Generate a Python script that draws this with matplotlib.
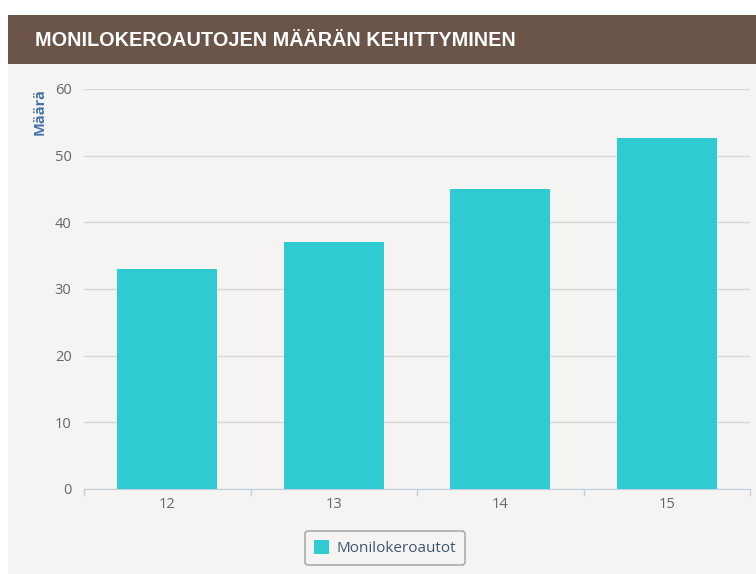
import matplotlib.pyplot as plt
from matplotlib.patches import Rectangle

years = ["12", "13", "14", "15"]
counts = [33, 37, 45, 52.6]
y_ticks = [0, 10, 20, 30, 40, 50, 60]

title = "MONILOKEROAUTOJEN MÄÄRÄN KEHITTYMINEN"
y_label = "Määrä"
series_name = "Monilokeroautot"

W, H = 756, 574
bg = "#f5f4f2"
bar_color = "#2ecbd3"

fig = plt.figure(figsize=(W / 100, H / 100), dpi=100)
fig.patch.set_facecolor("white")

# chart background and title bar
fig.patches.append(Rectangle((8 / W, 0), 1, 1 - 64 / H, transform=fig.transFigure,
                             facecolor=bg, edgecolor="none", zorder=-2))
fig.patches.append(Rectangle((8 / W, 1 - 64 / H), 1, 49 / H, transform=fig.transFigure,
                             facecolor="#6b5549", edgecolor="none", zorder=-1))
fig.text(35 / W, 1 - 40 / H, title, color="white", fontsize=14.3, fontweight="bold",
         family=["Liberation Sans", "DejaVu Sans"], va="center", ha="left")

ax = fig.add_axes([84 / W, 1 - 489 / H, 666 / W, 400 / H])
ax.set_facecolor(bg)
x = range(len(years))
bars = ax.bar(x, counts, width=0.6, color=bar_color, zorder=3, label=series_name)

ax.set_xlim(-0.5, len(years) - 0.5)
ax.set_ylim(0, 60)
ax.set_yticks(y_ticks)
ax.yaxis.grid(True, color="#d8d8d8", linewidth=1)
ax.set_axisbelow(True)
for s in ["top", "right", "left"]:
    ax.spines[s].set_visible(False)
ax.spines["bottom"].set_color("#c0d0e0")
ax.spines["bottom"].set_zorder(4)

ax.set_xticks(list(x))
ax.set_xticklabels(years)
ax.set_xticks([i - 0.5 for i in range(len(years) + 1)], minor=True)
ax.tick_params(axis="x", which="major", length=0, pad=6, labelsize=10.5, labelcolor="#666666")
ax.tick_params(axis="x", which="minor", length=5, color="#c0d0e0", width=1)
ax.tick_params(axis="y", length=0, pad=9, labelsize=10.5, labelcolor="#666666")
for lbl in ax.get_xticklabels() + ax.get_yticklabels():
    lbl.set_family(["Open Sans", "DejaVu Sans"])

fig.text(40 / W, 1 - 112 / H, y_label, rotation=90, color="#4572a7", fontsize=10.5,
         fontweight="bold", ha="center", va="center", family=["Open Sans", "DejaVu Sans"])

leg = fig.legend(handles=[bars], loc="center", bbox_to_anchor=(385 / W, 1 - 548 / H),
                 frameon=True, fancybox=True, facecolor=bg, edgecolor="#999999",
                 handlelength=1.0, handleheight=1.0, handletextpad=0.5, borderpad=0.6,
                 prop={"family": ["Open Sans", "DejaVu Sans"], "size": 11})
leg.get_frame().set_linewidth(1.2)
for t in leg.get_texts():
    t.set_color("#3e576f")

fig.savefig("out.png", dpi=100, facecolor=fig.get_facecolor())
